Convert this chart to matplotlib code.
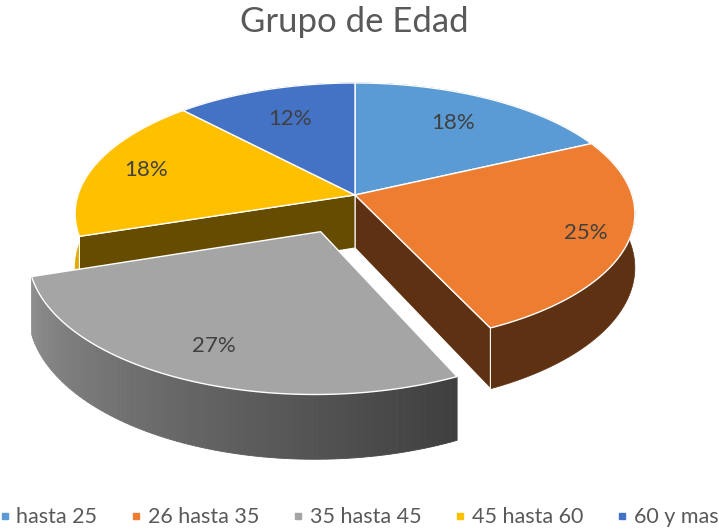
import numpy as np
import matplotlib.pyplot as plt
from matplotlib.patches import Polygon
from matplotlib.lines import Line2D
from matplotlib.colors import to_rgb

categories = ['hasta 25', '26 hasta 35', '35 hasta 45', '45 hasta 60', '60 y mas']
values = [18, 25, 27, 18, 12]
colors = ['#5B9BD5', '#ED7D31', '#A5A5A5', '#FFC000', '#4472C4']
side_colors = ['#2F5A82', '#5E3113', '#8E8E8E', '#654C00', '#27436F']
rim_colors = ['#2F5A82', '#5E3113', '#8E8E8E', '#E0A800', '#27436F']
explode = [0, 0, 0.3, 0, 0]
label_r = [0.72, 0.85, 0.8, 0.8, 0.7]

FONT = ['Lato', 'DejaVu Sans']

# projection of the 3d disc onto pixel coordinates
CX, CY = 355, 195
A, B, P = 277, 128, 0.1425
H = 53


def proj(x, y, z=0.0):
    s = 1.0 / (1 + P * y)
    return (CX + A * x * s, CY - B * y * s + H * z * s)


def rim(t1, t2, off, z, n=80):
    th = np.radians(np.linspace(t1, t2, n))
    return [proj(off[0] + np.cos(t), off[1] + np.sin(t), z) for t in th]


def outer_wall(ax, t1, t2, off, c1, c2=None, n=80):
    # c1 at the t2 end (left), c2 at the t1 end (right)
    if c2 is None:
        top = rim(t1, t2, off, 0, n)
        bot = rim(t1, t2, off, 1, n)
        ax.add_patch(Polygon(top + bot[::-1], closed=True, fc=c1, ec=c1, lw=0.5))
        return
    th = np.linspace(t2, t1, n + 1)
    a, b = np.array(to_rgb(c1)), np.array(to_rgb(c2))
    for k in range(n):
        col = a + (b - a) * k / (n - 1)
        top = rim(th[k], th[k + 1], off, 0, 3)
        bot = rim(th[k], th[k + 1], off, 1, 3)
        ax.add_patch(Polygon(top + bot[::-1], closed=True, fc=col, ec=col, lw=0.6))


def radial_wall(ax, t, off, col):
    ct, st = np.cos(np.radians(t)), np.sin(np.radians(t))
    pts = [proj(off[0], off[1], 0), proj(off[0] + ct, off[1] + st, 0),
           proj(off[0] + ct, off[1] + st, 1), proj(off[0], off[1], 1)]
    ax.add_patch(Polygon(pts, closed=True, fc=col, ec='white', lw=0.8))


def top_face(ax, t1, t2, off, col):
    pts = [proj(off[0], off[1], 0)] + rim(t1, t2, off, 0, 120)
    ax.add_patch(Polygon(pts, closed=True, fc=col, ec='white', lw=1.0))


fig = plt.figure(figsize=(7.19, 5.29), dpi=100)
ax = fig.add_axes([0, 0, 1, 1])
ax.set_xlim(0, 719)
ax.set_ylim(529, 0)
ax.axis('off')

n = len(values)
total = float(sum(values))
bounds = 90 - 360 * np.cumsum([0] + values) / total
offs = []
for i in range(n):
    mid = np.radians((bounds[i] + bounds[i + 1]) / 2)
    offs.append((explode[i] * np.cos(mid), explode[i] * np.sin(mid)))

flat = [i for i in range(n) if explode[i] == 0]
moved = [i for i in range(n) if explode[i] != 0]

# walls of the slices that stay in place
for i in flat:
    outer_wall(ax, bounds[i], bounds[i + 1], offs[i], rim_colors[i])
for i in flat:
    # inner walls only show next to a pulled-out slice
    if explode[(i - 1) % n]:
        radial_wall(ax, bounds[i], offs[i], side_colors[i])
    if explode[(i + 1) % n]:
        radial_wall(ax, bounds[i + 1], offs[i], side_colors[i])
for i in flat:
    top_face(ax, bounds[i], bounds[i + 1], offs[i], colors[i])

# exploded slice in front
for i in moved:
    outer_wall(ax, bounds[i], bounds[i + 1], offs[i], side_colors[i], '#3F3F3F')
    top_face(ax, bounds[i], bounds[i + 1], offs[i], colors[i])

for i in range(n):
    mid = np.radians((bounds[i] + bounds[i + 1]) / 2)
    x, y = proj(offs[i][0] + label_r[i] * np.cos(mid),
                offs[i][1] + label_r[i] * np.sin(mid))
    ax.text(x, y, '{:.0f}%'.format(100 * values[i] / total), ha='center',
            va='center', fontsize=16, color='#404040', family=FONT)

fig.text(0.493, 0.958, 'Grupo de Edad', ha='center', va='center',
         fontsize=25, color='#595959', family=FONT)

handles = [Line2D([], [], marker='s', ls='', color=c, markersize=5) for c in colors]
fig.legend(handles, categories, loc='center', bbox_to_anchor=(0.5, 0.022),
           ncol=5, frameon=False, handlelength=0.4, handletextpad=0.35,
           columnspacing=1.6, borderpad=0, borderaxespad=0,
           prop={'family': FONT, 'size': 15.5}, labelcolor='#595959')

fig.savefig('out.png', dpi=100)
